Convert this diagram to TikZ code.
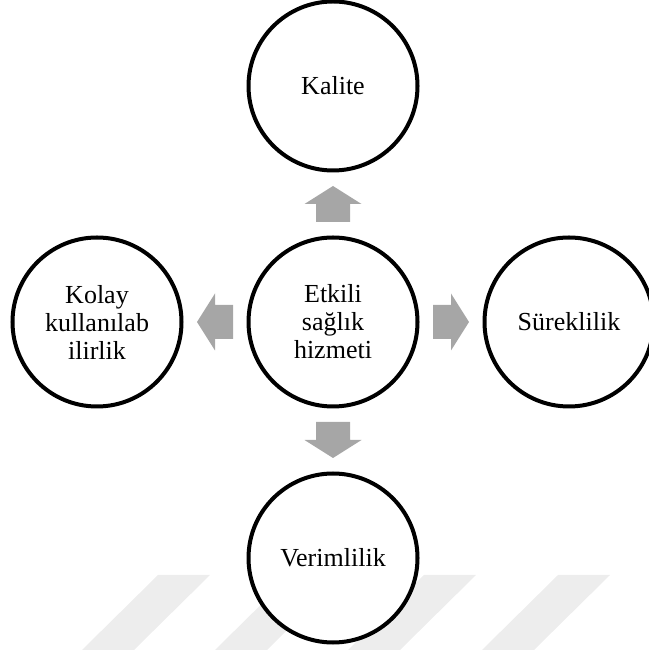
\documentclass[tikz,border=0pt]{standalone}
\usepackage{fontspec}
\setmainfont{Liberation Serif}
\usetikzlibrary{calc}

\tikzset{
  konu/.style={circle,draw=black,line width=4pt,fill=white,
    minimum size=169pt,inner sep=0pt,align=center,
    font=\fontsize{26}{28}\selectfont},
  okgri/.style={fill=black!35},
  blokok/.pic={
    \fill[okgri] (-18,-17) -- (0,-17) -- (0,-28.5) -- (18,0)
      -- (0,28.5) -- (0,17) -- (-18,17) -- cycle;
  }
}

\begin{document}
\begin{tikzpicture}[x=1pt,y=1pt]
\useasboundingbox (0,0) rectangle (648,650);

% faint stripes at the bottom
\foreach \Xc in {158,291,424,558}
{
  \fill[black!7] 
    (\Xc,75) -- ++(52,0) -- ++(-76,-75) -- ++(-52,0) -- cycle;
}

\node[konu] (etk) at (333,328) {Etkili\\sağlık\\hizmeti};
\node[konu] (kal) at (333,564) {Kalite};
\node[konu] (sur) at (569,328) {Süreklilik};
\node[konu] (ver) at (333,92)  {Verimlilik};
\node[konu] (kol) at (97,328)  {Kolay\\kullanılab\\ilirlik};

\foreach \Isim/\Aci in {kal/90,sur/0,ver/-90,kol/180}
{
  \path ($(etk)!0.5!(\Isim)$) pic[rotate=\Aci] {blokok};
}
\end{tikzpicture}
\end{document}
